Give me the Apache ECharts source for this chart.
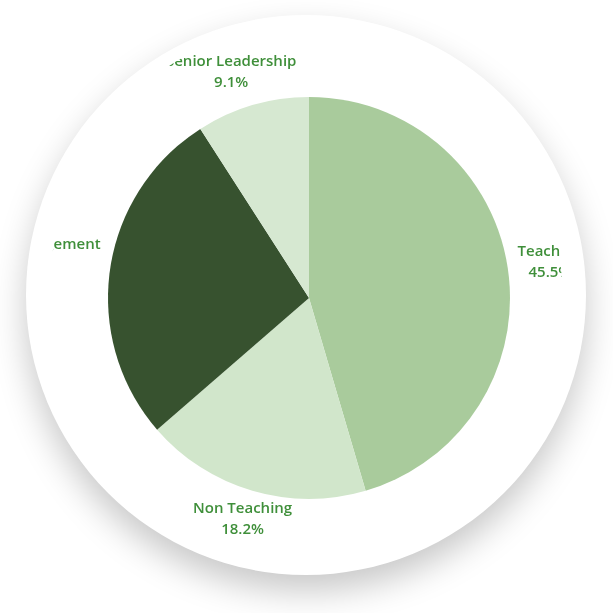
<!DOCTYPE html>
<html>
<head>
<meta charset="utf-8">
<script src="https://cdn.jsdelivr.net/npm/echarts@6/dist/echarts.min.js"></script>
<style>
  html, body { margin: 0; padding: 0; background: #fff; }
  #card {
    position: absolute;
    left: 26px; top: 15px;
    width: 560px; height: 560px;
    border-radius: 50%;
    background: #fff;
    box-shadow: 0 16px 34px rgba(0, 0, 0, 0.22);
  }
  #main {
    position: absolute;
    left: 0; top: 0;
    width: 613px; height: 613px;
    clip-path: ellipse(256px 264px at 306px 289px);
    filter: blur(0.4px);
  }
</style>
</head>
<body>
<div id="card"></div>
<div id="main"></div>
<script>
var categories = ['Teaching', 'Non Teaching', 'Management', 'Senior Leadership'];
var values = [45.5, 18.2, 27.3, 9.1];
var colors = ['#a9cb9c', '#d1e6cb', '#37522f', '#d6e8d1'];
// label shows percentage except Management (as in the picture)
var showPercent = [true, true, false, true];

var CX = 309, CY = 298, R = 201, GAP = 10;
// small nudges for labels (px)
var nudgeX = [0, 7, 0, 0];
var nudgeY = [-3, -1, -22, -3];

var total = values.reduce(function (a, b) { return a + b; }, 0);
var startFrac = [];
var acc = 0;
for (var i = 0; i < values.length; i++) {
  startFrac.push(acc);
  acc += values[i] / total;
}

var chart = echarts.init(document.getElementById('main'), null, { renderer: 'canvas' });

var data = categories.map(function (name, i) {
  return {
    name: name,
    value: values[i],
    itemStyle: { color: colors[i] }
  };
});

var option = {
  animation: false,
  series: [{
    type: 'pie',
    center: [CX, CY],
    radius: R,
    startAngle: 90,
    clockwise: true,
    avoidLabelOverlap: false,
    data: data,
    itemStyle: { borderWidth: 0 },
    emphasis: { disabled: true },
    label: {
      show: true,
      position: 'outside',
      color: '#3f8f3a',
      fontFamily: 'Open Sans',
      fontWeight: 600,
      fontSize: 15,
      lineHeight: 21,
      formatter: function (p) {
        var i = p.dataIndex;
        if (!showPercent[i]) return p.name;
        return p.name + '\n' + values[i].toFixed(1) + '%';
      }
    },
    labelLine: { show: false, length: 0, length2: 0 },
    labelLayout: function (params) {
      var i = params.dataIndex;
      var mid = startFrac[i] + values[i] / total / 2;
      var a = mid * 2 * Math.PI;
      var dx = Math.sin(a), dy = -Math.cos(a);
      var w = params.labelRect.width, h = params.labelRect.height;
      var ax = CX + dx * (R + GAP), ay = CY + dy * (R + GAP);
      return {
        x: ax + dx * w / 2 + nudgeX[i],
        y: ay + dy * h / 2 + nudgeY[i],
        align: 'center',
        verticalAlign: 'middle'
      };
    }
  }]
};

chart.setOption(option);
</script>
</body>
</html>
